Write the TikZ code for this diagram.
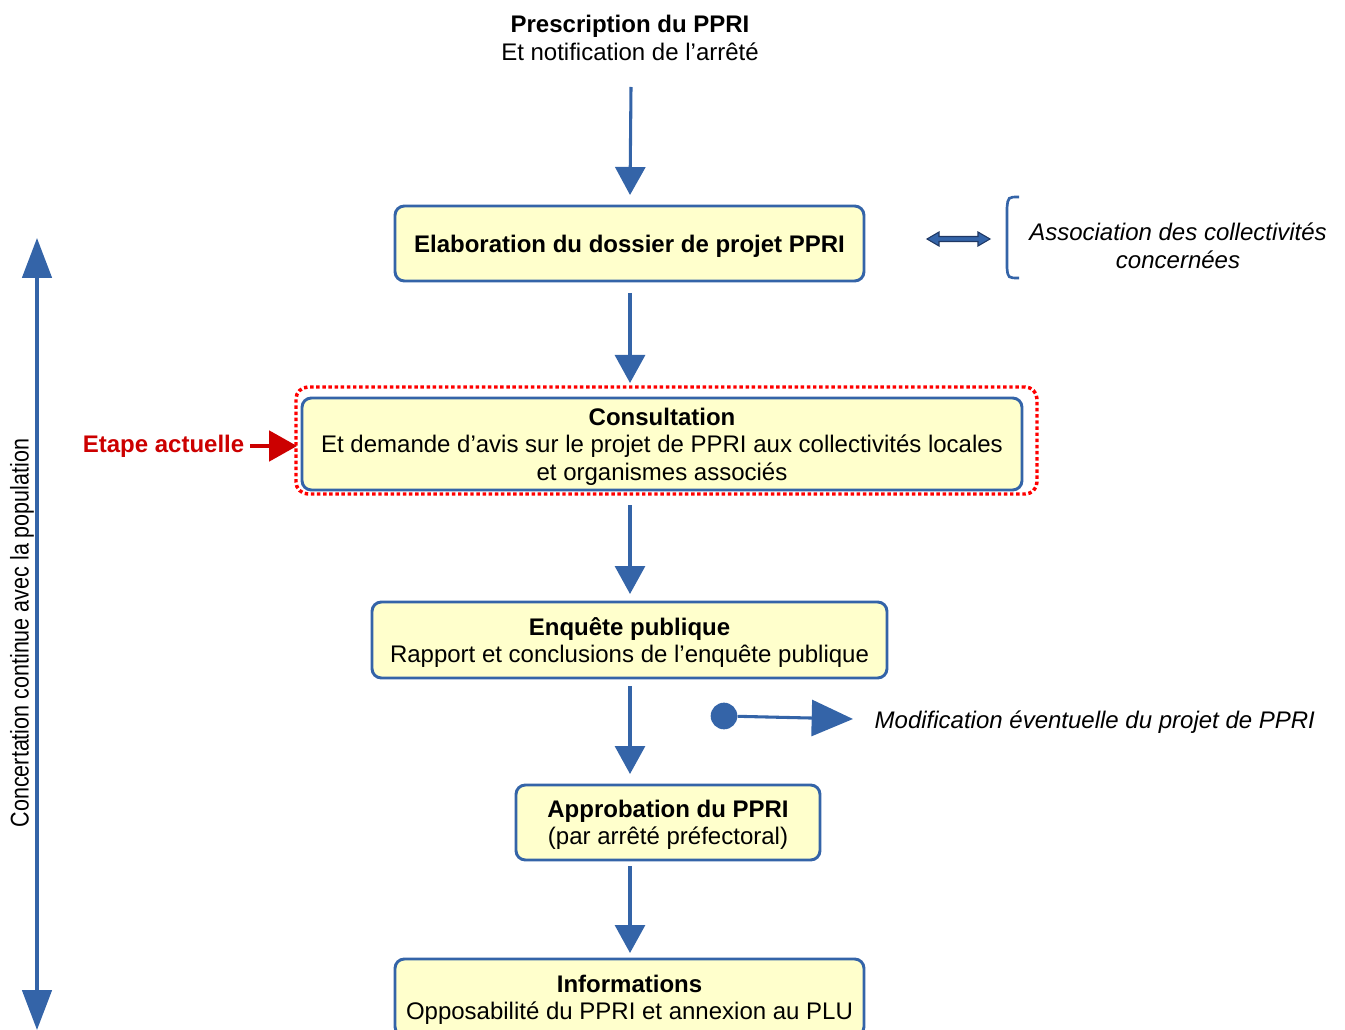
\documentclass[tikz,border=0pt]{standalone}
\usepackage{fontspec}
\setmainfont{Liberation Sans}
\newfontfamily\narrowfont[FakeStretch=0.84]{Liberation Sans}
\usetikzlibrary{arrows.meta}
\definecolor{ppriblue}{RGB}{52,100,168}
\definecolor{pprifill}{RGB}{255,255,204}
\definecolor{ppridark}{RGB}{31,56,100}
\definecolor{pprired}{RGB}{204,0,0}
\begin{document}
\begin{tikzpicture}[x=0.75pt,y=-0.75pt,
  every node/.style={font=\fontsize{18}{20.6}\selectfont},
  step_box/.style={rectangle,rounded corners=7pt,draw=ppriblue,line width=2.2pt,fill=pprifill,align=center,inner sep=0pt,text depth=0pt},
  flow/.style={color=ppriblue,line width=2.3pt,-{Triangle[width=22.5pt,length=21pt]}},
  side_text/.style={align=center,font=\fontsize{18}{20.6}\selectfont\itshape}]

  \useasboundingbox (0,0) rectangle (1345,1030);

  % etapes
  \node[align=center] (0) at (630,38) {\textbf{Prescription du PPRI}\\Et notification de l’arrêté};
  \node[step_box,minimum width=351.75pt,minimum height=56.25pt] (1) at (629.5,243.5) {\textbf{Elaboration du dossier de projet PPRI}};
  \node[rectangle,rounded corners=9pt,draw=red,dotted,line width=2.6pt,minimum width=555.75pt,minimum height=80.25pt] (cur) at (666.5,440.5) {};
  \node[step_box,minimum width=540pt,minimum height=69pt] (2) at (662,444) {\textbf{Consultation}\\Et demande d’avis sur le projet de PPRI aux collectivités locales\\et organismes associés};
  \node[step_box,minimum width=386.25pt,minimum height=57pt] (3) at (629.5,640) {\textbf{Enquête publique}\\Rapport et conclusions de l’enquête publique};
  \node[step_box,minimum width=228pt,minimum height=56.25pt] (4) at (668,822.5) {\textbf{Approbation du PPRI}\\(par arrêté préfectoral)};
  \node[step_box,minimum width=351.75pt,minimum height=57.75pt] (5) at (629.5,997.5) {\textbf{Informations}\\Opposabilité du PPRI et annexion au PLU};

  \coordinate (0s) at (631,87);  \coordinate (1e) at (630,195);
  \coordinate (1s) at (630,293); \coordinate (2e) at (630,383);
  \coordinate (2s) at (630,505); \coordinate (3e) at (630,594);
  \coordinate (3s) at (630,686); \coordinate (4e) at (630,774);
  \coordinate (4s) at (630,866); \coordinate (5e) at (630,953);
  \path[flow]
  (0s) edge (1e)
  (1s) edge (2e)
  (2s) edge (3e)
  (3s) edge (4e)
  (4s) edge (5e)
  ;

  % etape actuelle
  \node[anchor=east,text=pprired,font=\fontsize{18}{20.6}\selectfont\bfseries] (now) at (249,446) {Etape actuelle};
  \coordinate (nows) at (250,446);
  \coordinate (nowe) at (297,446);
  \path[color=pprired,line width=2.3pt,-{Triangle[width=23pt,length=21pt]}]
  (nows) edge (nowe)
  ;

  % association
  \draw[fill=ppriblue,draw=ppridark,line width=0.8pt]
  (927,239) -- (939,232) -- (939,236.5) -- (978,236.5) -- (978,232) -- (990,239)
  -- (978,246) -- (978,241.5) -- (939,241.5) -- (939,246) -- cycle;
  \draw[ppriblue,line width=2pt] (1019,197) .. controls (1008,197) .. (1007,208) -- (1007,268) .. controls (1008,278) .. (1019,278);
  \node[side_text] (asso) at (1178,246) {Association des collectivités\\concernées};

  % modification
  \node[circle,fill=ppriblue,minimum size=20pt,inner sep=0pt] (dot) at (724,716) {};
  \coordinate (tip) at (853,719);
  \path[color=ppriblue,line width=2.3pt,-{Triangle[width=27pt,length=31pt]}]
  (dot) edge (tip)
  ;
  \node[side_text,anchor=west] (modif) at (870,722) {Modification éventuelle du projet de PPRI};

  % concertation
  \coordinate (top) at (37,238);
  \coordinate (bot) at (37,1030);
  \path[color=ppriblue,line width=2.8pt,{Triangle[width=22pt,length=30pt]}-{Triangle[width=22pt,length=30pt]}]
  (top) edge (bot)
  ;
  \node[rotate=90,font=\fontsize{19.2}{20}\selectfont\narrowfont] (conc) at (22,633) {Concertation continue avec la population};
\end{tikzpicture}
\end{document}
